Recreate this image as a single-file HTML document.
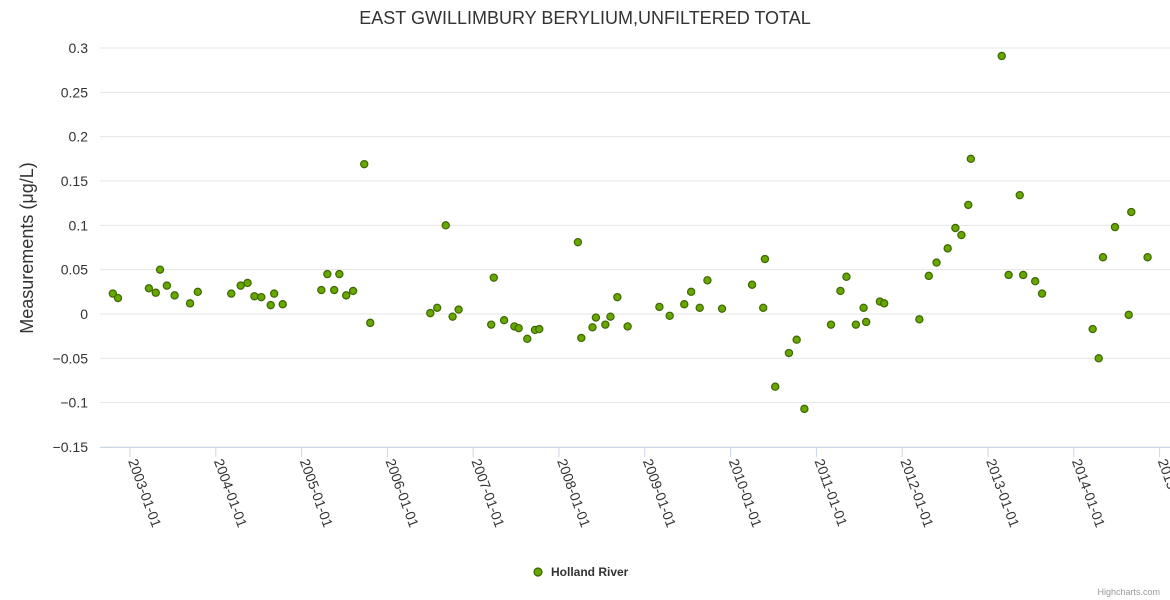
<!DOCTYPE html>
<html><head><meta charset="utf-8">
<style>
html,body{margin:0;padding:0;background:#fff;width:1170px;height:600px;overflow:hidden;font-family:"Liberation Sans",sans-serif;}
</style></head>
<body>
<svg id="chart" width="1170" height="600" xmlns="http://www.w3.org/2000/svg" font-family="Liberation Sans, sans-serif">
<text x="585" y="24" text-anchor="middle" font-size="18" fill="#333">EAST GWILLIMBURY BERYLIUM,UNFILTERED TOTAL</text>
<text transform="translate(33,248) rotate(-90)" text-anchor="middle" font-size="18" fill="#333">Measurements (μg/L)</text>
<g id="grid"></g>
<g id="xaxis"></g>
<g id="yaxis"></g>
<g id="series"></g>
<g>
<circle cx="538" cy="572" r="4" fill="#66a800" stroke="#3d6600" stroke-width="1.2"/>
<text x="551" y="576" font-size="12" font-weight="bold" fill="#333">Holland River</text>
</g>
<text x="1160" y="595" text-anchor="end" font-size="9" fill="#999">Highcharts.com</text>
</svg>
<script>
const yTicks=[0.3,0.25,0.2,0.15,0.1,0.05,0,-0.05,-0.1,-0.15];
const yTickLabels=["0.3","0.25","0.2","0.15","0.1","0.05","0","−0.05","−0.1","−0.15"];
const xTickYears=[2003,2004,2005,2006,2007,2008,2009,2010,2011,2012,2013,2014,2015];
const xTickLabels=["2003-01-01","2004-01-01","2005-01-01","2006-01-01","2007-01-01","2008-01-01","2009-01-01","2010-01-01","2011-01-01","2012-01-01","2013-01-01","2014-01-01","2015-01-01"];
const dates=[2002.80,2002.86,2003.22,2003.30,2003.35,2003.43,2003.52,2003.70,2003.79,2004.18,2004.29,2004.37,2004.45,2004.53,2004.64,2004.68,2004.78,2005.23,2005.30,2005.38,2005.44,2005.52,2005.60,2005.73,2005.80,2006.50,2006.58,2006.68,2006.76,2006.83,2007.21,2007.24,2007.36,2007.48,2007.53,2007.63,2007.72,2007.77,2008.22,2008.26,2008.39,2008.43,2008.54,2008.60,2008.68,2008.80,2009.17,2009.29,2009.46,2009.54,2009.64,2009.73,2009.90,2010.25,2010.38,2010.40,2010.52,2010.68,2010.77,2010.86,2011.17,2011.28,2011.35,2011.46,2011.55,2011.58,2011.74,2011.79,2012.20,2012.31,2012.40,2012.53,2012.62,2012.69,2012.77,2012.80,2013.16,2013.24,2013.37,2013.41,2013.55,2013.63,2014.22,2014.29,2014.34,2014.48,2014.64,2014.67,2014.86];
const values=[0.023,0.018,0.029,0.024,0.050,0.032,0.021,0.012,0.025,0.023,0.032,0.035,0.020,0.019,0.010,0.023,0.011,0.027,0.045,0.027,0.045,0.021,0.026,0.169,-0.010,0.001,0.007,0.100,-0.003,0.005,-0.012,0.041,-0.007,-0.014,-0.016,-0.028,-0.018,-0.017,0.081,-0.027,-0.015,-0.004,-0.012,-0.003,0.019,-0.014,0.008,-0.002,0.011,0.025,0.007,0.038,0.006,0.033,0.007,0.062,-0.082,-0.044,-0.029,-0.107,-0.012,0.026,0.042,-0.012,0.007,-0.009,0.014,0.012,-0.006,0.043,0.058,0.074,0.097,0.089,0.123,0.175,0.291,0.044,0.134,0.044,0.037,0.023,-0.017,-0.050,0.064,0.098,-0.001,0.115,0.064];
const NS="http://www.w3.org/2000/svg";
const X=d=>130+(d-2003)*85.8;
const Y=v=>314-v*886.7;
function mk(t,a,p){const e=document.createElementNS(NS,t);for(const k in a)e.setAttribute(k,a[k]);p.appendChild(e);return e;}
const grid=document.getElementById('grid'),ya=document.getElementById('yaxis'),xa=document.getElementById('xaxis'),ser=document.getElementById('series');
yTicks.forEach((v,i)=>{
  const l=mk('line',{x1:100,x2:1170,y1:Y(v),y2:Y(v),stroke:'#e6e6e6','stroke-width':1},grid);
  
  
  const t=mk('text',{x:88,y:Y(v)+5,'text-anchor':'end','font-size':14,fill:'#333'},ya);
  t.textContent=yTickLabels[i];
  
  
});
const ax=mk('line',{x1:100,x2:1170,y1:447.5,y2:447.5,stroke:'#ccd6eb','stroke-width':1},xa);


xTickYears.forEach((yr,i)=>{
  const x=X(yr);
  const tk=mk('line',{x1:x,x2:x,y1:447,y2:457,stroke:'#ccd6eb','stroke-width':1},xa);
  
  
  const t=mk('text',{transform:`translate(${x-2},${461}) rotate(70)`,'font-size':14,fill:'#333'},xa);
  t.textContent=xTickLabels[i];
  
  
});
dates.forEach((d,i)=>{
  const c=mk('circle',{cx:X(d),cy:Y(values[i]),r:3.6,fill:'#66a800',stroke:'#3d6600','stroke-width':1.2},ser);
  
  
});
</script>
</body></html>
